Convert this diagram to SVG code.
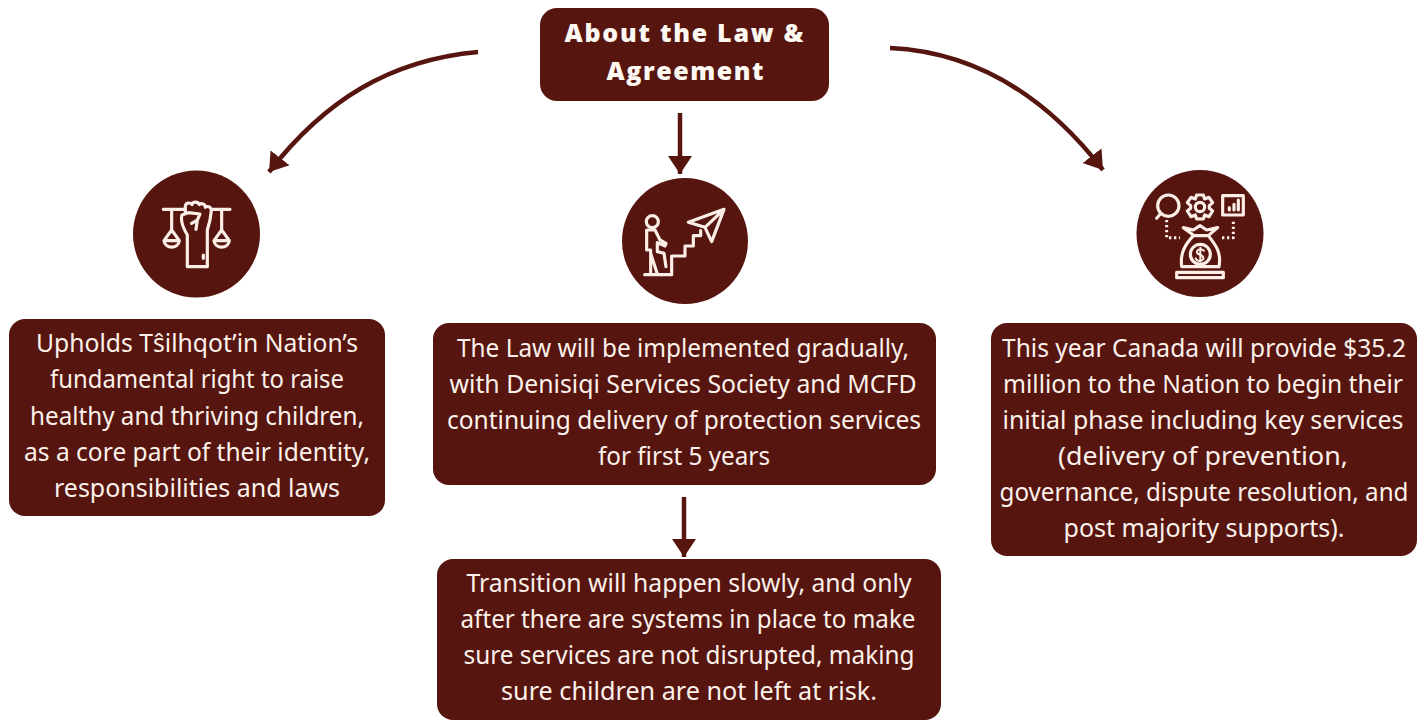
<svg xmlns="http://www.w3.org/2000/svg" width="1426" height="720" viewBox="0 0 1426 720">
<defs>
<style>
.box{fill:#56150f}
.t{font-family:"Noto Sans","Open Sans",sans-serif;font-size:24.500px;fill:#fbf1ea;text-anchor:middle}
.h{font-family:"Open Sans","Noto Sans",sans-serif;font-size:25px;font-weight:800;fill:#fdf8f2;text-anchor:middle}
.c{fill:none;stroke:#56150f;stroke-width:4.500}
.i{fill:none;stroke:#fbeee6;stroke-width:9.500;stroke-linejoin:round;stroke-linecap:round}
.d{fill:none;stroke:#fbeee6;stroke-width:9;stroke-dasharray:7 8;stroke-linecap:butt}
</style>
<marker id="a" markerUnits="userSpaceOnUse" markerWidth="22" markerHeight="28" refX="18" refY="14" orient="auto"><path d="M0 2L18 14L0 26Z" fill="#56150f"/></marker>
</defs>
<rect width="1426" height="720" fill="#fff"/>
<g id="connectors">
<path class="c" marker-end="url(#a)" d="M478 52C390 60 325 100 269 172"/>
<path class="c" marker-end="url(#a)" d="M890 48C975 52 1045 95 1103 170"/>
<path class="c" marker-end="url(#a)" d="M680 113V174"/>
<path class="c" marker-end="url(#a)" d="M684 497V557"/>
</g>
<g id="node-title"><rect class="box" x="540" y="8" width="289" height="93" rx="17"/>
<text class="h" x="684" y="42" textLength="239" lengthAdjust="spacing">About the Law &amp;</text>
<text class="h" x="685" y="80" textLength="157" lengthAdjust="spacing">Agreement</text></g>
<g id="icon-left"><circle class="box" cx="196.500" cy="234" r="63.500"/>
<g class="i" transform="translate(120 170) scale(.3333)">
<path d="M130 118H193M278 118H330"/>
<path d="M196 128V108C197 98 210 96 216 104C218 94 234 94 238 104C244 98 256 102 256 112C264 106 274 112 274 122L270 150L262 180V290H202V195C190 175 180 155 186 135L205 128L240 132L232 150M215 160L232 150L228 178M250 255V265"/>
<path d="M155 122V180L132 212H178L155 180M132 212C135 238 175 238 178 212M305 122V180L282 212H328L305 180M282 212C285 238 325 238 328 212"/>
</g></g>
<g id="icon-middle"><circle class="box" cx="685" cy="241" r="63"/>
<g class="i" transform="translate(610 170) scale(.3333)">
<circle cx="127" cy="155" r="18"/>
<path d="M110 180H135L150 210L168 220L165 228L142 218V245L162 250L168 290M110 180V240H122V312M122 250L142 312M104 314H155"/>
<path d="M155 314H185V285V258H225V228H250V197H272V182"/>
<path d="M342 118L235 157L285 172L305 215ZM342 118L285 172"/>
</g></g>
<g id="icon-right"><circle class="box" cx="1200" cy="233.500" r="63.500"/>
<g class="i" transform="translate(1125 165) scale(.3333)">
<circle cx="130" cy="122" r="32"/><path d="M108 145L95 160"/>
<path d="M215 90H235L239 102L252 97L263 113L253 122V130L263 138L252 155L239 150L235 162H215L211 150L198 155L187 138L197 130V122L187 113L198 97L211 102Z"/><circle cx="225" cy="126" r="14"/>
<rect x="293" y="92" width="62" height="58"/><path d="M313 135V128M327 135V118M340 135V105"/>
<path d="M205 210L175 188L205 195L225 182L245 195L278 188L250 212H205C180 240 165 262 170 305H282C290 262 272 240 250 212"/>
<circle cx="226" cy="268" r="30"/><path d="M237 257C226 248 212 255 217 265C224 272 238 270 235 282C228 292 215 288 212 280M226 248V290" stroke-width="6"/>
<path d="M155 338V322H295V338Z"/>
<path class="d" d="M125 165V218H165M325 170V218H285M225 158V172"/>
</g></g>
<g id="node-left"><rect class="box" x="9" y="319" width="376" height="197" rx="16"/>
<text class="t" x="197" y="352" textLength="322" lengthAdjust="spacingAndGlyphs">Upholds Tŝilhqot’in Nation’s</text>
<text class="t" x="197" y="388" textLength="294" lengthAdjust="spacingAndGlyphs">fundamental right to raise</text>
<text class="t" x="197" y="425" textLength="334" lengthAdjust="spacingAndGlyphs">healthy and thriving children,</text>
<text class="t" x="197" y="461" textLength="346" lengthAdjust="spacingAndGlyphs">as a core part of their identity,</text>
<text class="t" x="197" y="497" textLength="286" lengthAdjust="spacingAndGlyphs">responsibilities and laws</text></g>
<g id="node-middle"><rect class="box" x="433" y="323" width="503" height="162" rx="16"/>
<text class="t" x="683" y="357" textLength="452" lengthAdjust="spacingAndGlyphs">The Law will be implemented gradually,</text>
<text class="t" x="683" y="393" textLength="467" lengthAdjust="spacingAndGlyphs">with Denisiqi Services Society and MCFD</text>
<text class="t" x="684" y="429" textLength="474" lengthAdjust="spacingAndGlyphs">continuing delivery of protection services</text>
<text class="t" x="684" y="465" textLength="172" lengthAdjust="spacingAndGlyphs">for first 5 years</text></g>
<g id="node-bottom"><rect class="box" x="437" y="559" width="504" height="161" rx="16"/>
<text class="t" x="689" y="592" textLength="445" lengthAdjust="spacingAndGlyphs">Transition will happen slowly, and only</text>
<text class="t" x="688" y="628" textLength="455" lengthAdjust="spacingAndGlyphs">after there are systems in place to make</text>
<text class="t" x="689" y="664" textLength="451" lengthAdjust="spacingAndGlyphs">sure services are not disrupted, making</text>
<text class="t" x="689" y="700" textLength="376" lengthAdjust="spacingAndGlyphs">sure children are not left at risk.</text></g>
<g id="node-right"><rect class="box" x="991" y="323" width="426" height="233" rx="16"/>
<text class="t" x="1204" y="357" textLength="404" lengthAdjust="spacingAndGlyphs">This year Canada will provide $35.2</text>
<text class="t" x="1203" y="393" textLength="400" lengthAdjust="spacingAndGlyphs">million to the Nation to begin their</text>
<text class="t" x="1203" y="429" textLength="401" lengthAdjust="spacingAndGlyphs">initial phase including key services</text>
<text class="t" x="1203" y="465" textLength="290" lengthAdjust="spacingAndGlyphs">(delivery of prevention,</text>
<text class="t" x="1204" y="501" textLength="409" lengthAdjust="spacingAndGlyphs">governance, dispute resolution, and</text>
<text class="t" x="1204" y="537" textLength="281" lengthAdjust="spacingAndGlyphs">post majority supports).</text></g>
</svg>
